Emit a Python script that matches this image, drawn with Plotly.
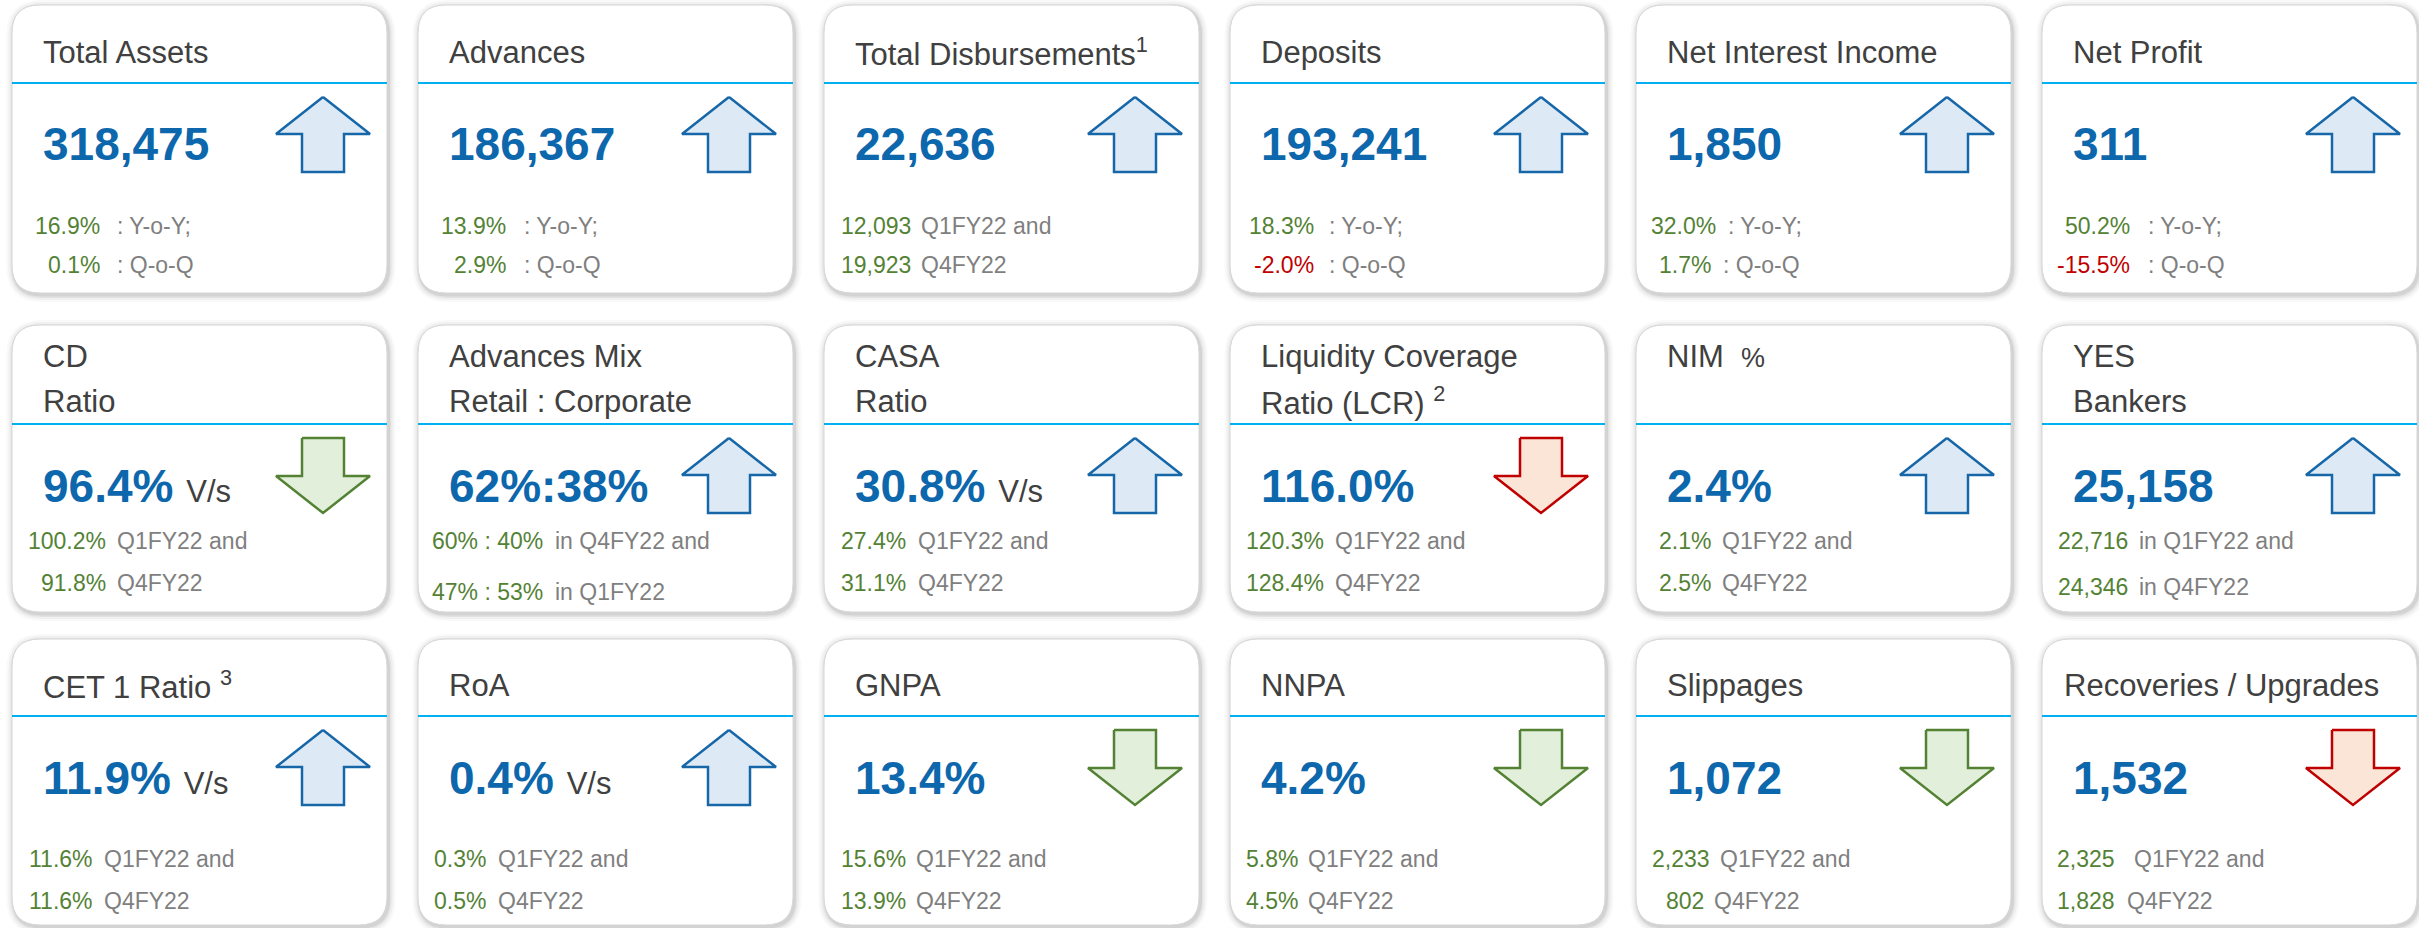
import plotly.graph_objects as go

# ---------------- data ----------------
titles = [
    "Total Assets", "Advances", "Total Disbursements<sup>1</sup>", "Deposits",
    "Net Interest Income", "Net Profit",
    "CD<br>Ratio", "Advances Mix<br>Retail : Corporate", "CASA<br>Ratio",
    "Liquidity Coverage<br>Ratio (LCR) <sup>2</sup>",
    "NIM\u00a0\u00a0<span style='font-size:27px'>%</span>", "YES<br>Bankers",
    "CET 1 Ratio <sup>3</sup>", "RoA", "GNPA", "NNPA", "Slippages", "Recoveries / Upgrades",
]
values = [
    "318,475", "186,367", "22,636", "193,241", "1,850", "311",
    "96.4%", "62%:38%", "30.8%", "116.0%", "2.4%", "25,158",
    "11.9%", "0.4%", "13.4%", "4.2%", "1,072", "1,532",
]
value_suffix = ["", "", "", "", "", "",
                "V/s", "", "V/s", "", "", "",
                "V/s", "V/s", "", "", "", ""]
trend = ["up", "up", "up", "up", "up", "up",
         "down", "up", "up", "down", "up", "up",
         "up", "up", "down", "down", "down", "down"]
trend_favourable = [True, True, True, True, True, True,
                    True, True, True, False, True, True,
                    True, True, True, True, True, False]
line1_value = ["16.9%", "13.9%", "12,093", "18.3%", "32.0%", "50.2%",
               "100.2%", "60% : 40%", "27.4%", "120.3%", "2.1%", "22,716",
               "11.6%", "0.3%", "15.6%", "5.8%", "2,233", "2,325"]
line1_label = [": Y-o-Y;", ": Y-o-Y;", "Q1FY22 and", ": Y-o-Y;", ": Y-o-Y;", ": Y-o-Y;",
               "Q1FY22 and", "in Q4FY22 and", "Q1FY22 and", "Q1FY22 and", "Q1FY22 and", "in Q1FY22 and",
               "Q1FY22 and", "Q1FY22 and", "Q1FY22 and", "Q1FY22 and", "Q1FY22 and", "Q1FY22 and"]
line2_value = ["0.1%", "2.9%", "19,923", "-2.0%", "1.7%", "-15.5%",
               "91.8%", "47% : 53%", "31.1%", "128.4%", "2.5%", "24,346",
               "11.6%", "0.5%", "13.9%", "4.5%", "802", "1,828"]
line2_label = [": Q-o-Q", ": Q-o-Q", "Q4FY22", ": Q-o-Q", ": Q-o-Q", ": Q-o-Q",
               "Q4FY22", "in Q1FY22", "Q4FY22", "Q4FY22", "Q4FY22", "in Q4FY22",
               "Q4FY22", "Q4FY22", "Q4FY22", "Q4FY22", "Q4FY22", "Q4FY22"]

# ---------------- layout / style ----------------
W, H = 2419, 928
NCOL = 6
COL_X0, COL_PITCH, CARD_W = 12, 406, 375
ROW_TOP = [5, 325, 639]
ROW_BOT = [293, 612, 925]
HEADER_Y = [83, 424, 716]
TITLE_Y = [52, 356, 685]
TITLE_LH = 45
TITLE_X = [29] * 17 + [20]
VALUE_Y = [144, 486, 778]
SUB_Y1 = [226, 541, 859]
SUB_GAP = [39, 42, 42]
SUB_GAP_EXTRA = {7: 9, 11: 4}
# sub-line value right edge / label left edge, relative to card left
VAL_R1 = [90, 90, 89, 86, 82, 90, 96, 127, 84, 96, 77, 88, 83, 70, 84, 70, 76, 75]
LAB_L1 = [103, 104, 95, 97, 90, 104, 103, 135, 92, 103, 84, 95, 90, 78, 90, 76, 82, 90]
VAL_R2 = list(VAL_R1)
LAB_L2 = list(LAB_L1)
VAL_R2[4], LAB_L2[4] = 77, 85
VAL_R2[16], LAB_L2[16] = 70, 76
LAB_L2[17] = 83

FONT = "Liberation Sans, Arial, sans-serif"
TITLE_C = "#404040"
LABEL_C = "#7F7F7F"
GREEN = "#548235"
RED = "#C00000"
BLUE = "#0D67AC"
ARROW_STYLE = {
    "blue": ("#1767A8", "#DDEAF6"),
    "green": ("#548235", "#E2EFDA"),
    "red": ("#C00000", "#FBE5D6"),
}


def rrect(x0, y0, x1, y1, r):
    return (f"M{x0+r},{y0} L{x1-r},{y0} Q{x1},{y0} {x1},{y0+r} "
            f"L{x1},{y1-r} Q{x1},{y1} {x1-r},{y1} L{x0+r},{y1} "
            f"Q{x0},{y1} {x0},{y1-r} L{x0},{y0+r} Q{x0},{y0} {x0+r},{y0} Z")


fig = go.Figure()
shapes = []
annotations = []

for i in range(len(titles)):
    row, col = divmod(i, NCOL)
    x0 = COL_X0 + col * COL_PITCH
    x1 = x0 + CARD_W
    y0, y1 = ROW_TOP[row], ROW_BOT[row]
    R = 28
    # soft shadow
    for k, op in [(7, 0.025), (5, 0.035), (3, 0.05), (1.5, 0.07)]:
        shapes.append(dict(type="path", path=rrect(x0 - k + 1.5, y0 - k + 2, x1 + k + 1.5, y1 + k + 2, R + k),
                           fillcolor=f"rgba(0,0,0,{op})", line=dict(width=0), layer="below"))
    shapes.append(dict(type="path", path=rrect(x0, y0, x1, y1, R), fillcolor="white",
                       line=dict(color="#D6D6D6", width=1), layer="below"))
    shapes.append(dict(type="line", x0=x0, x1=x1, y0=HEADER_Y[row], y1=HEADER_Y[row],
                       line=dict(color="#00B0F0", width=2), layer="below"))

    # title
    for j, t in enumerate(titles[i].split("<br>")):
        annotations.append(dict(x=x0 + TITLE_X[i], y=TITLE_Y[row] + j * TITLE_LH, text=t, xanchor="left",
                                yanchor="middle", font=dict(family=FONT, size=31, color=TITLE_C)))
    # main value
    txt = f"<b>{values[i]}</b>"
    if value_suffix[i]:
        txt += f" <span style='font-size:31px;color:#404040'>{value_suffix[i]}</span>"
    annotations.append(dict(x=x0 + 29, y=VALUE_Y[row], text=txt, xanchor="left", yanchor="middle",
                            font=dict(family=FONT, size=46, color=BLUE)))
    # sub lines
    gap = SUB_GAP[row] + SUB_GAP_EXTRA.get(i, 0)
    for yy, v, lab, vr, lx in [(SUB_Y1[row], line1_value[i], line1_label[i], VAL_R1[i], LAB_L1[i]),
                               (SUB_Y1[row] + gap, line2_value[i], line2_label[i], VAL_R2[i], LAB_L2[i])]:
        vc = RED if v.startswith("-") else GREEN
        annotations.append(dict(x=x0 + vr, y=yy, text=v, xanchor="right", yanchor="middle",
                                font=dict(family=FONT, size=23, color=vc)))
        annotations.append(dict(x=x0 + lx, y=yy, text=lab, xanchor="left", yanchor="middle",
                                font=dict(family=FONT, size=23, color=LABEL_C)))

    # arrow
    cx = x0 + 311
    ty = HEADER_Y[row] + 14
    hw, sw, hh, tot = 47, 21, 37, 75
    if trend[i] == "up":
        px = [cx, cx + hw, cx + sw, cx + sw, cx - sw, cx - sw, cx - hw, cx]
        py = [ty, ty + hh, ty + hh, ty + tot, ty + tot, ty + hh, ty + hh, ty]
        style = "blue"
    else:
        px = [cx - sw, cx + sw, cx + sw, cx + hw, cx, cx - hw, cx - sw, cx - sw]
        py = [ty, ty, ty + tot - hh, ty + tot - hh, ty + tot, ty + tot - hh, ty + tot - hh, ty]
        style = "green" if trend_favourable[i] else "red"
    lc, fc = ARROW_STYLE[style]
    fig.add_trace(go.Scatter(x=px, y=py, mode="lines", fill="toself", fillcolor=fc,
                             line=dict(color=lc, width=2.5), hoverinfo="skip", showlegend=False))

fig.update_layout(
    width=W, height=H, margin=dict(l=0, r=0, t=0, b=0),
    paper_bgcolor="white", plot_bgcolor="white",
    xaxis=dict(range=[0, W], visible=False, fixedrange=True),
    yaxis=dict(range=[H, 0], visible=False, fixedrange=True),
    shapes=shapes, annotations=[dict(a, showarrow=False, xref="x", yref="y") for a in annotations],
    showlegend=False,
)
fig.write_html("out.html", config={"displayModeBar": False},
               post_script="document.body.style.margin='0';")
